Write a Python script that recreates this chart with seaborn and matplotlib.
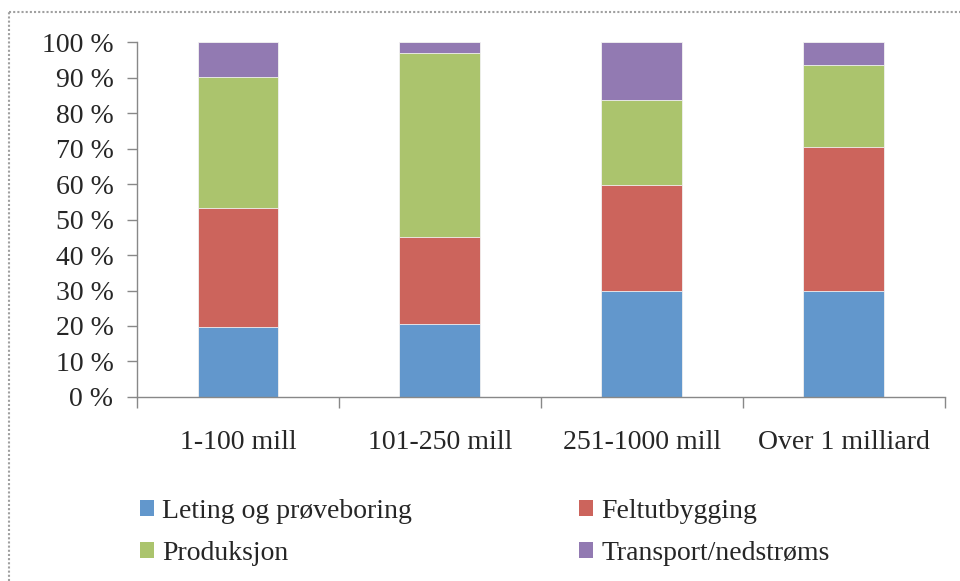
import matplotlib
matplotlib.use("Agg")
import matplotlib.pyplot as plt
from matplotlib.lines import Line2D
from matplotlib.patches import Patch
import seaborn as sns
import pandas as pd
import numpy as np

categories = ["1-100 mill", "101-250 mill", "251-1000 mill", "Over 1 milliard"]
series_names = ["Leting og prøveboring", "Feltutbygging", "Produksjon", "Transport/nedstrøms"]
leting = [19.6, 20.5, 29.9, 29.9]
felt = [33.5, 24.7, 29.7, 40.5]
produksjon = [37.1, 51.6, 24.1, 23.0]
transport = [9.8, 3.2, 16.3, 6.6]
colors = ["#6297CC", "#CC645C", "#ABC46D", "#927AB2"]
y_ticks = list(range(0, 101, 10))
y_tick_labels = [f"{v} %" for v in y_ticks]

sns.set_theme(style="white")
plt.rcParams["font.family"] = ["Liberation Serif", "DejaVu Serif"]

fig = plt.figure(figsize=(9.6, 5.81), dpi=100)
ax = fig.add_axes([0.1427, 0.3167, 0.8413, 0.611])

values = [leting, felt, produksjon, transport]
stack = np.cumsum(np.array(values), axis=0)
# draw cumulative totals from the top layer down so lower layers overlay
for i in range(len(values) - 1, -1, -1):
    df = pd.DataFrame({"cat": categories, "val": stack[i]})
    sns.barplot(data=df, x="cat", y="val", color=colors[i], width=0.4,
                edgecolor="#f2f2f2", linewidth=0.6, saturation=1, ax=ax)

ax.set_xlim(-0.5, 3.5)
ax.set_ylim(0, 100)
ax.set_xlabel("")
ax.set_ylabel("")
ax.set_yticks(y_ticks)
ax.set_yticklabels(y_tick_labels, fontsize=20)
ax.set_xticks(range(len(categories)))
ax.set_xticklabels(categories, fontsize=20)
ax.set_xticks(np.arange(-0.5, 3.6, 1.0), minor=True)
ax.tick_params(axis="x", which="major", length=0, pad=24)
ax.tick_params(axis="x", which="minor", length=8, width=1, color="#888888", direction="out", bottom=True)
ax.tick_params(axis="y", length=7, width=1, color="#888888", direction="out", left=True, pad=10)
for s in ["top", "right"]:
    ax.spines[s].set_visible(False)
for s in ["left", "bottom"]:
    ax.spines[s].set_color("#888888")
    ax.spines[s].set_linewidth(1)

# legend laid out row-wise: matplotlib fills columns first, so interleave
order = [0, 2, 1, 3]
handles = [Patch(facecolor=colors[k], edgecolor="none") for k in order]
labels = [series_names[k] for k in order]
fig.legend(handles, labels, loc="upper left", bbox_to_anchor=(0.146, 0.141),
           ncol=2, frameon=False, fontsize=20, handlelength=0.5, handleheight=0.5,
           handletextpad=0.3, columnspacing=6.0, labelspacing=0.6,
           borderaxespad=0.0, borderpad=0.0)

# dotted outer frame
fig.add_artist(Line2D([9 / 960, 1.0], [1 - 12 / 581, 1 - 12 / 581], transform=fig.transFigure,
                      color="#a0a0a0", lw=1.5, ls=(0, (1, 1))))
fig.add_artist(Line2D([9 / 960, 9 / 960], [0.0, 1 - 12 / 581], transform=fig.transFigure,
                      color="#a0a0a0", lw=1.5, ls=(0, (1, 1))))

fig.savefig("out.png", dpi=100)
